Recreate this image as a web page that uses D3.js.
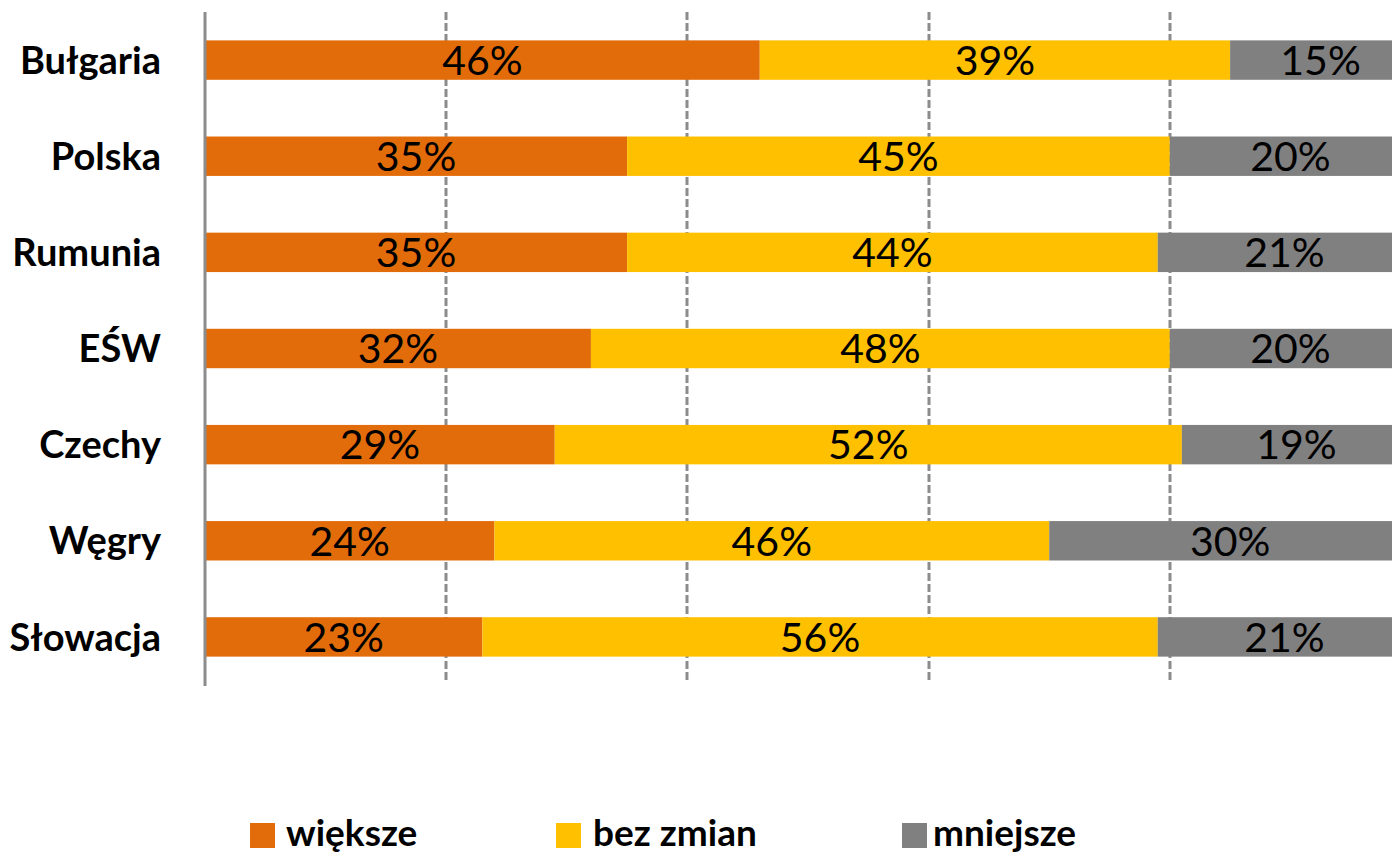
<!DOCTYPE html>
<html>
<head>
    <meta charset="utf-8" />
    <title>Stacked Bar Chart</title>
    <style>
        body { margin: 0; background: #fff; }
        #bar_chart { width: 1392px; height: 855px; }
        text { font-family: Lato, "Open Sans", sans-serif; }
    </style>
</head>
<body>
    <div id="bar_chart"></div>
    <script src="https://cdnjs.cloudflare.com/ajax/libs/d3/7.8.5/d3.min.js"></script>
    <script>
        var categories = ['Bułgaria', 'Polska', 'Rumunia', 'EŚW', 'Czechy', 'Węgry', 'Słowacja'];
        var wieksze = [46, 35, 35, 32, 29, 24, 23];
        var bezZmian = [39, 45, 44, 48, 52, 46, 56];
        var mniejsze = [15, 20, 21, 20, 19, 30, 21];
        var seriesNames = ['większe', 'bez zmian', 'mniejsze'];
        var gridTicks = [0.2, 0.4, 0.6, 0.8];
        var colors = ['#E36C0A', '#FFC000', '#808080'];

        var width = 1392, height = 855;
        var svg = d3.select('#bar_chart').append('svg')
            .attr('width', width)
            .attr('height', height);

        // build table for the stack
        var data = categories.map(function (c, i) {
            return { cat: c, 'większe': wieksze[i], 'bez zmian': bezZmian[i], 'mniejsze': mniejsze[i] };
        });
        var series = d3.stack().keys(seriesNames).offset(d3.stackOffsetExpand)(data);

        var x = d3.scaleLinear().domain([0, 1]).range([205, 1411]);
        var y = d3.scaleBand().domain(categories).range([12, 685])
            .paddingInner(0.59).paddingOuter(0.295);
        var color = d3.scaleOrdinal().domain(seriesNames).range(colors);

        // dashed gridlines
        svg.append('g').selectAll('line')
            .data(gridTicks)
            .enter().append('line')
            .attr('x1', function (d) { return Math.round(x(d)); })
            .attr('x2', function (d) { return Math.round(x(d)); })
            .attr('y1', 12)
            .attr('y2', 682)
            .attr('stroke', '#8c8c8c')
            .attr('stroke-width', 3)
            .attr('stroke-dasharray', '8,3');

        // bars
        var groups = svg.append('g').selectAll('g')
            .data(series)
            .enter().append('g')
            .attr('fill', function (d) { return color(d.key); });

        groups.selectAll('rect')
            .data(function (d) { return d; })
            .enter().append('rect')
            .attr('x', function (d) { return x(d[0]); })
            .attr('width', function (d) { return x(d[1]) - x(d[0]); })
            .attr('y', function (d) { return y(d.data.cat); })
            .attr('height', y.bandwidth());

        groups.selectAll('text')
            .data(function (s) { return s.map(function (d) { return { d: d, key: s.key }; }); })
            .enter().append('text')
            .attr('x', function (o) { return (x(o.d[0]) + x(o.d[1])) / 2; })
            .attr('y', function (o) { return y(o.d.data.cat) + y.bandwidth() / 2; })
            .attr('dy', '0.36em')
            .attr('text-anchor', 'middle')
            .attr('fill', '#000')
            .style('font-size', '41px')
            .text(function (o) { return o.d.data[o.key] + '%'; });

        // vertical axis
        svg.append('line')
            .attr('x1', 205).attr('x2', 205)
            .attr('y1', 12).attr('y2', 686)
            .attr('stroke', '#8c8c8c')
            .attr('stroke-width', 3);

        // category labels
        svg.append('g').selectAll('text')
            .data(categories)
            .enter().append('text')
            .attr('x', 161)
            .attr('y', function (d) { return y(d) + y.bandwidth() / 2; })
            .attr('dy', '0.36em')
            .attr('text-anchor', 'end')
            .style('font-size', '38px')
            .style('font-weight', 'bold')
            .text(function (d) { return d; });

        // legend
        var legendX = [250, 556, 902];
        var legend = svg.append('g').selectAll('g')
            .data(seriesNames)
            .enter().append('g')
            .attr('transform', function (d, i) { return 'translate(' + legendX[i] + ',823)'; });
        legend.append('rect')
            .attr('width', 25).attr('height', 25)
            .attr('fill', function (d) { return color(d); });
        legend.append('text')
            .attr('x', function (d, i) { return [36, 37, 31][i]; })
            .attr('y', 23)
            .style('font-size', '37px')
            .style('font-weight', 'bold')
            .text(function (d) { return d; });
    </script>
</body>
</html>
